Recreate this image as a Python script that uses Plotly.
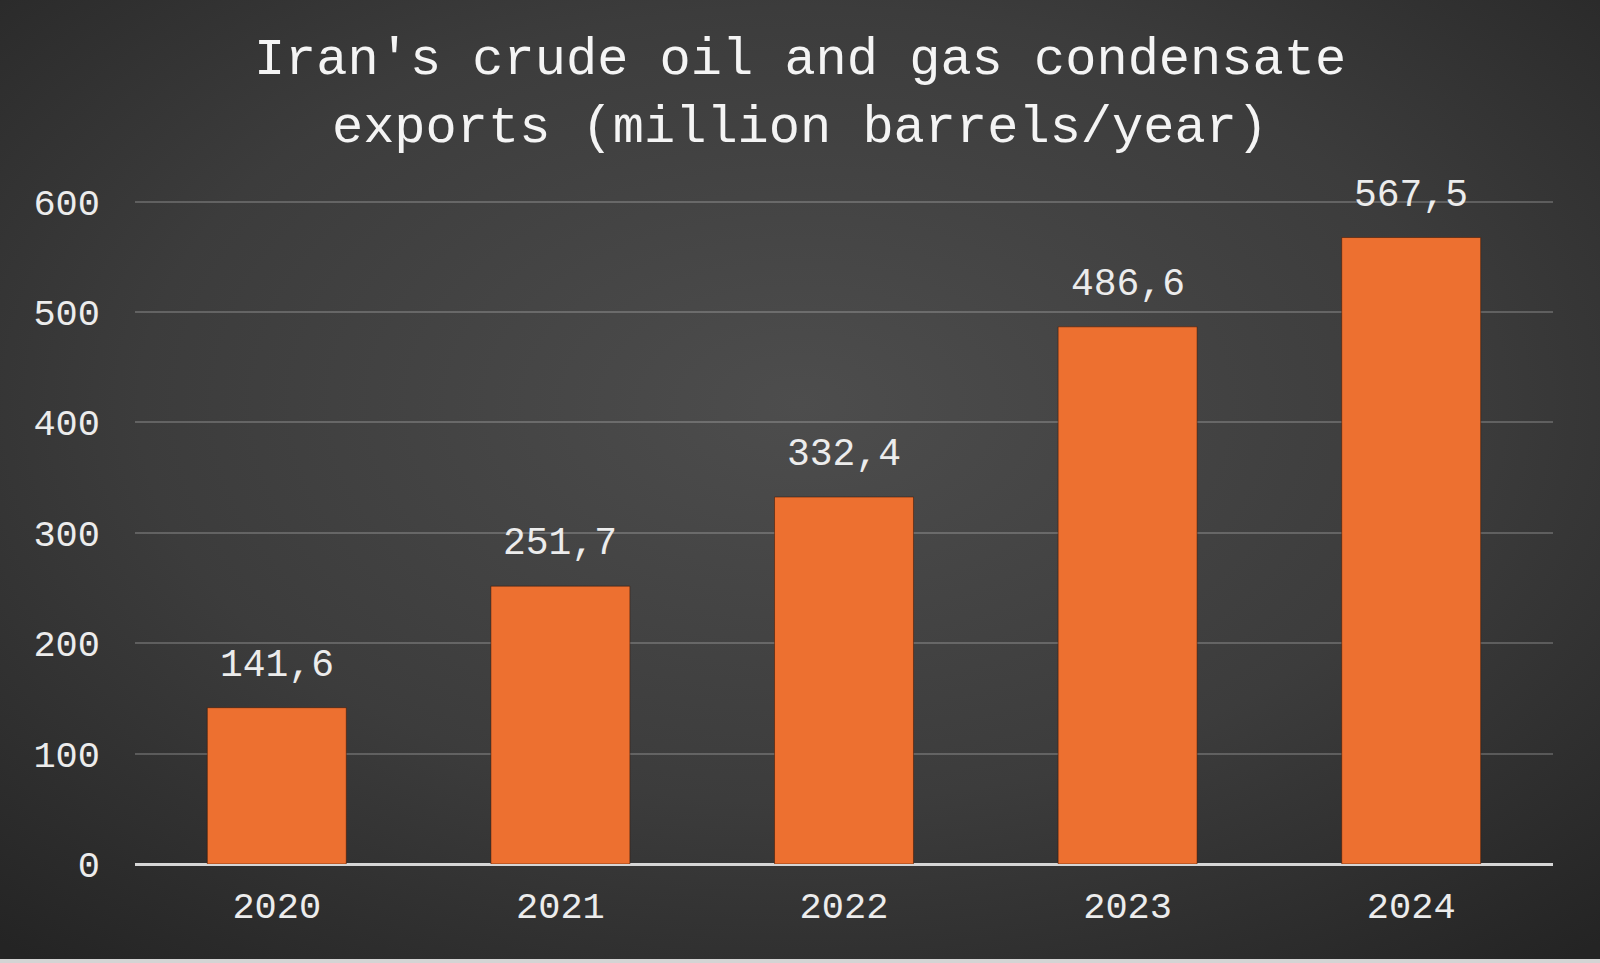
import base64
import plotly.graph_objects as go

years = ["2020", "2021", "2022", "2023", "2024"]
exports = [141.6, 251.7, 332.4, 486.6, 567.5]
y_ticks = [0, 100, 200, 300, 400, 500, 600]
title_text = "Iran's crude oil and gas condensate<br>exports (million barrels/year)"

W, H = 1600, 963
ML, MR, MT, MB = 135, 47, 200, 99
PW, PH = W - ML - MR, H - MT - MB

FONT = "Liberation Mono, Courier New, monospace"
TXT = "#ececec"

svg = f"""<svg xmlns='http://www.w3.org/2000/svg' width='{W}' height='{H}' viewBox='0 0 {W} {H}' preserveAspectRatio='none'>
<defs><radialGradient id='g' cx='0.5' cy='0.42' r='0.75' gradientUnits='objectBoundingBox'>
<stop offset='0' stop-color='#4d4d4d'/><stop offset='0.55' stop-color='#3c3c3c'/><stop offset='1' stop-color='#242424'/>
</radialGradient></defs>
<rect width='{W}' height='{H}' fill='url(#g)'/></svg>"""
bg_src = "data:image/svg+xml;base64," + base64.b64encode(svg.encode()).decode()

fig = go.Figure()
fig.add_trace(go.Bar(
    x=years, y=exports, width=0.49,
    marker=dict(color="#ed7030", line=dict(color="rgba(60,20,0,0.5)", width=1)),
    hoverinfo="x+y",
))

annotations = []
for i, v in enumerate(exports):
    annotations.append(dict(
        x=i, y=v, xref="x", yref="y", text=f"{v:.1f}".replace(".", ","),
        showarrow=False, yanchor="bottom", yshift=19,
        font=dict(family=FONT, size=38, color=TXT),
    ))

fig.update_layout(
    width=W, height=H,
    margin=dict(l=ML, r=MR, t=MT, b=MB),
    paper_bgcolor="#383838", plot_bgcolor="rgba(0,0,0,0)",
    showlegend=False, bargap=0.51,
    title=dict(text=title_text, x=0.5, xref="container", xanchor="center",
               y=1 - 74 / H, yref="container", yanchor="middle",
               font=dict(family=FONT, size=52, color="#f4f4f4")),
    annotations=annotations,
    images=[dict(source=bg_src, xref="paper", yref="paper",
                 x=-ML / PW, y=1 + MT / PH, sizex=W / PW, sizey=H / PH,
                 xanchor="left", yanchor="top", sizing="stretch", layer="below")],
    shapes=[dict(type="rect", xref="paper", yref="paper",
                 x0=-ML / PW, x1=1 + MR / PW, y0=-MB / PH, y1=(-MB + 4) / PH,
                 fillcolor="#d4d4d4", line=dict(width=0), layer="above")],
    xaxis=dict(
        type="category", range=[-0.5, len(years) - 0.5],
        showgrid=False, showline=False, zeroline=False,
        ticks="", tickfont=dict(family=FONT, size=37, color=TXT),
        ticklabelstandoff=16,
    ),
    yaxis=dict(
        range=[0, 601.5], tickvals=y_ticks, showgrid=True,
        gridcolor="rgba(255,255,255,0.2)", gridwidth=1.5,
        zeroline=True, zerolinecolor="#d6d6d6", zerolinewidth=2.5,
        showline=False, ticks="",
        tickfont=dict(family=FONT, size=37, color=TXT),
        ticklabelstandoff=34,
    ),
)

fig.write_html("out.html", config={"displayModeBar": False},
               post_script="document.body.style.margin='0';document.body.style.overflow='hidden';")
